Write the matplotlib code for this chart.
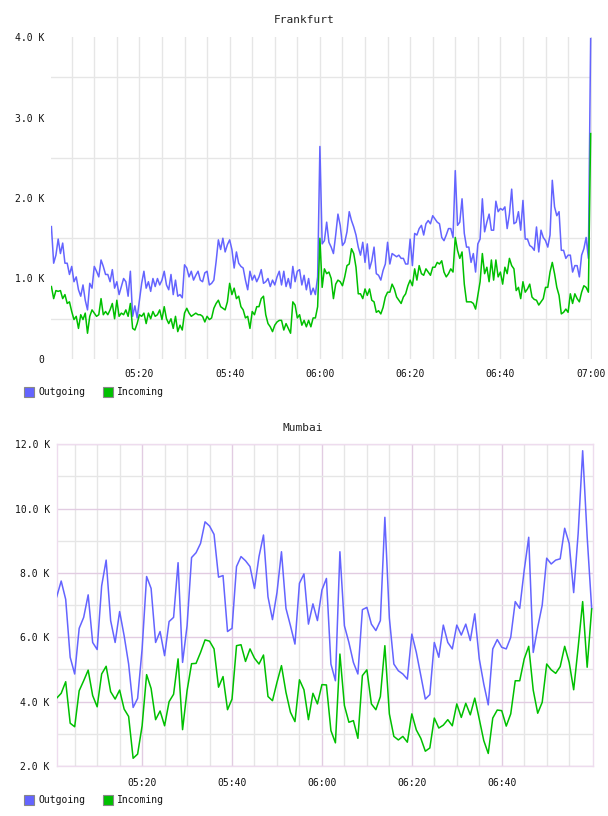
import matplotlib
matplotlib.use("Agg")
import matplotlib.pyplot as plt
import numpy as np
from matplotlib.patches import Rectangle
from matplotlib.ticker import FixedLocator

# ---------------- data (values in thousands) ----------------
series_names = ["Outgoing", "Incoming"]

# Frankfurt: 30-second samples, minutes after 05:00
frankfurt_minutes = np.arange(240) * 0.5 + 0.5
frankfurt_outgoing = [
    1.645, 1.19, 1.29, 1.49, 1.31, 1.44, 1.19, 1.19, 1.05, 1.15,
    0.96, 1.02, 0.86, 0.78, 0.92, 0.73, 0.61, 0.94, 0.88, 1.15,
    1.09, 1.02, 1.23, 1.15, 1.05, 1.05, 0.96, 1.11, 0.88, 0.96,
    0.80, 0.90, 1.00, 0.96, 0.78, 1.09, 0.53, 0.66, 0.51, 0.73,
    0.94, 1.09, 0.88, 0.96, 0.84, 1.00, 0.90, 1.00, 0.92, 0.98,
    1.09, 0.92, 0.86, 1.05, 0.80, 0.98, 0.78, 0.80, 0.76, 1.17,
    1.13, 1.02, 1.09, 0.98, 1.04, 1.09, 0.98, 0.96, 1.07, 1.09,
    0.92, 0.94, 0.98, 1.21, 1.48, 1.36, 1.50, 1.33, 1.42, 1.48,
    1.36, 1.13, 1.33, 1.19, 1.15, 1.13, 0.98, 0.86, 1.09, 0.98,
    1.04, 0.96, 1.02, 1.11, 0.94, 0.96, 1.00, 0.90, 0.98, 0.92,
    1.02, 1.09, 0.92, 1.09, 0.90, 1.00, 0.88, 1.15, 0.96, 1.09,
    1.11, 0.92, 1.04, 0.86, 1.00, 0.80, 0.88, 0.80, 1.02, 2.64,
    1.43, 1.47, 1.70, 1.45, 1.39, 1.31, 1.54, 1.80, 1.66, 1.41,
    1.45, 1.58, 1.83, 1.72, 1.64, 1.54, 1.39, 1.29, 1.45, 1.20,
    1.43, 1.12, 1.22, 1.39, 1.06, 1.04, 0.98, 1.10, 1.18, 1.45,
    1.18, 1.31, 1.29, 1.27, 1.29, 1.25, 1.25, 1.18, 1.18, 1.49,
    1.16, 1.56, 1.54, 1.62, 1.66, 1.54, 1.68, 1.72, 1.68, 1.78,
    1.74, 1.70, 1.68, 1.51, 1.47, 1.54, 1.62, 1.62, 1.51, 2.34,
    1.66, 1.70, 1.99, 1.56, 1.39, 1.39, 1.20, 1.31, 1.08, 1.43,
    1.49, 1.99, 1.58, 1.70, 1.80, 1.60, 1.60, 1.96, 1.83, 1.87,
    1.85, 1.89, 1.62, 1.80, 2.11, 1.68, 1.70, 1.83, 1.60, 1.97,
    1.49, 1.49, 1.41, 1.39, 1.35, 1.64, 1.33, 1.60, 1.51, 1.47,
    1.39, 1.54, 2.22, 1.89, 1.78, 1.83, 1.35, 1.35, 1.25, 1.29,
    1.29, 1.08, 1.16, 1.16, 1.02, 1.29, 1.37, 1.51, 1.25, 3.98,
]
frankfurt_incoming = [
    0.90, 0.75, 0.85, 0.84, 0.85, 0.75, 0.80, 0.69, 0.71, 0.59,
    0.49, 0.53, 0.38, 0.55, 0.49, 0.57, 0.32, 0.53, 0.61, 0.57,
    0.53, 0.55, 0.75, 0.55, 0.59, 0.55, 0.61, 0.69, 0.50, 0.73,
    0.53, 0.57, 0.55, 0.61, 0.53, 0.69, 0.38, 0.36, 0.44, 0.55,
    0.53, 0.57, 0.44, 0.57, 0.50, 0.59, 0.53, 0.55, 0.61, 0.49,
    0.65, 0.50, 0.44, 0.50, 0.38, 0.53, 0.34, 0.42, 0.36, 0.57,
    0.63, 0.57, 0.53, 0.55, 0.57, 0.55, 0.55, 0.53, 0.46, 0.53,
    0.49, 0.51, 0.63, 0.69, 0.73, 0.65, 0.63, 0.61, 0.71, 0.94,
    0.80, 0.88, 0.75, 0.78, 0.65, 0.61, 0.51, 0.53, 0.38, 0.59,
    0.55, 0.65, 0.65, 0.75, 0.78, 0.55, 0.44, 0.40, 0.34, 0.42,
    0.46, 0.48, 0.48, 0.36, 0.44, 0.38, 0.32, 0.71, 0.67, 0.51,
    0.55, 0.42, 0.48, 0.40, 0.48, 0.40, 0.51, 0.51, 0.65, 1.50,
    0.89, 1.12, 1.06, 1.08, 1.00, 0.75, 0.93, 0.98, 0.96, 0.91,
    1.02, 1.16, 1.18, 1.37, 1.31, 1.14, 0.81, 0.81, 0.75, 0.87,
    0.79, 0.87, 0.73, 0.71, 0.58, 0.60, 0.56, 0.64, 0.77, 0.83,
    0.83, 0.93, 0.87, 0.77, 0.73, 0.69, 0.77, 0.81, 0.91, 0.98,
    0.91, 1.12, 0.98, 1.16, 1.06, 1.04, 1.12, 1.08, 1.04, 1.14,
    1.14, 1.20, 1.18, 1.22, 1.08, 1.02, 1.06, 1.12, 1.08, 1.51,
    1.35, 1.25, 1.33, 0.93, 0.71, 0.71, 0.71, 0.69, 0.62, 0.79,
    0.96, 1.31, 1.06, 1.14, 0.96, 1.23, 0.98, 1.23, 1.02, 1.08,
    0.93, 1.14, 1.06, 1.25, 1.16, 1.12, 0.85, 0.89, 0.75, 0.96,
    0.83, 0.87, 0.93, 0.77, 0.74, 0.73, 0.67, 0.71, 0.75, 0.89,
    0.89, 1.08, 1.20, 1.06, 0.89, 0.79, 0.56, 0.58, 0.62, 0.58,
    0.81, 0.69, 0.81, 0.75, 0.71, 0.83, 0.91, 0.89, 0.83, 2.80,
]

# Mumbai: 1-minute samples, minutes after 05:00
mumbai_minutes = np.arange(120) + 1.0
mumbai_outgoing = [
    7.26, 7.75, 7.18, 5.38, 4.86, 6.28, 6.62, 7.32, 5.84, 5.62,
    7.60, 8.40, 6.52, 5.84, 6.80, 6.05, 5.17, 3.82, 4.10, 5.64,
    7.89, 7.52, 5.84, 6.18, 5.43, 6.49, 6.62, 8.32, 5.22, 6.36,
    8.48, 8.63, 8.92, 9.59, 9.46, 9.20, 7.87, 7.92, 6.18, 6.28,
    8.20, 8.51, 8.38, 8.20, 7.52, 8.51, 9.18, 7.26, 6.55, 7.39,
    8.66, 6.90, 6.36, 5.79, 7.68, 7.97, 6.41, 7.04, 6.52, 7.47,
    7.83, 5.17, 4.65, 8.66, 6.36, 5.84, 5.22, 4.86, 6.86, 6.93,
    6.41, 6.21, 6.52, 9.73, 6.60, 5.17, 4.96, 4.86, 4.70, 6.10,
    5.53, 4.81, 4.08, 4.22, 5.84, 5.38, 6.38, 5.84, 5.64, 6.38,
    6.07, 6.41, 5.90, 6.73, 5.33, 4.55, 3.90, 5.64, 5.93, 5.69,
    5.64, 6.00, 7.11, 6.90, 8.09, 9.11, 5.53, 6.31, 7.00, 8.46,
    8.28, 8.40, 8.44, 9.39, 8.92, 7.39, 9.23, 11.80, 9.13, 6.90,
]
mumbai_incoming = [
    4.11, 4.26, 4.62, 3.33, 3.22, 4.34, 4.65, 4.98, 4.19, 3.84,
    4.86, 5.10, 4.31, 4.08, 4.36, 3.77, 3.54, 2.24, 2.37, 3.25,
    4.84, 4.41, 3.44, 3.71, 3.25, 4.00, 4.23, 5.33, 3.13, 4.34,
    5.18, 5.19, 5.53, 5.92, 5.88, 5.64, 4.45, 4.78, 3.75, 4.08,
    5.74, 5.77, 5.25, 5.64, 5.35, 5.17, 5.45, 4.16, 4.03, 4.60,
    5.12, 4.29, 3.67, 3.38, 4.68, 4.37, 3.44, 4.26, 3.93, 4.53,
    4.52, 3.10, 2.72, 5.48, 3.88, 3.36, 3.41, 2.86, 4.81, 4.99,
    3.93, 3.75, 4.16, 5.74, 3.62, 2.92, 2.81, 2.92, 2.74, 3.62,
    3.12, 2.86, 2.46, 2.56, 3.49, 3.18, 3.27, 3.44, 3.25, 3.93,
    3.51, 3.95, 3.59, 4.11, 3.46, 2.79, 2.39, 3.49, 3.74, 3.72,
    3.24, 3.62, 4.65, 4.65, 5.33, 5.72, 4.36, 3.64, 3.98, 5.17,
    4.99, 4.88, 5.09, 5.72, 5.22, 4.37, 5.69, 7.11, 5.07, 6.88,
]

frankfurt_yticks = [0, 1, 2, 3, 4]
frankfurt_ylabels = ["0", "1.0 K", "2.0 K", "3.0 K", "4.0 K"]
mumbai_yticks = [2, 4, 6, 8, 10, 12]
mumbai_ylabels = ["2.0 K", "4.0 K", "6.0 K", "8.0 K", "10.0 K", "12.0 K"]
frankfurt_xticks = [20, 40, 60, 80, 100, 120]
frankfurt_xlabels = ["05:20", "05:40", "06:00", "06:20", "06:40", "07:00"]
mumbai_xticks = [20, 40, 60, 80, 100]
mumbai_xlabels = ["05:20", "05:40", "06:00", "06:20", "06:40"]

# ---------------- style ----------------
W, H = 608, 816
BLUE = "#6464ff"
GREEN = "#00c000"
MONO = "DejaVu Sans Mono"

fig = plt.figure(figsize=(W / 100, H / 100), dpi=100)
fig.patch.set_facecolor("white")


def axes_px(left, top, right, bottom):
    return fig.add_axes([left / W, 1 - bottom / H, (right - left) / W, (bottom - top) / H])


# ---- Frankfurt ----
ax1 = axes_px(51, 37, 592, 359)
ax1.plot(frankfurt_minutes, frankfurt_outgoing, color=BLUE, lw=1.1, zorder=3)
ax1.plot(frankfurt_minutes, frankfurt_incoming, color=GREEN, lw=1.1, zorder=3)
ax1.set_xlim(0.41, 120.3)
ax1.set_ylim(0, 4.0)
ax1.set_yticks(frankfurt_yticks)
ax1.set_yticklabels(frankfurt_ylabels)
ax1.yaxis.set_minor_locator(FixedLocator([0.5, 1.5, 2.5, 3.5]))
ax1.set_xticks(frankfurt_xticks)
ax1.set_xticklabels(frankfurt_xlabels)
ax1.xaxis.set_minor_locator(FixedLocator([m for m in range(5, 121, 5) if m % 20]))
for s in ax1.spines.values():
    s.set_visible(False)
ax1.grid(False)
ax1.grid(True, which="both", axis="x", color="#e6e6e6", lw=1.0, zorder=0)
ax1.grid(True, which="minor", axis="y", color="#e6e6e6", lw=1.0, zorder=0)
ax1.set_axisbelow(True)
ax1.tick_params(which="both", length=0)
ax1.tick_params(axis="y", pad=5)
ax1.tick_params(axis="x", pad=7)

# ---- Mumbai ----
ax2 = axes_px(56.7, 444.3, 593, 766)
ax2.plot(mumbai_minutes, mumbai_outgoing, color=BLUE, lw=1.1, zorder=3)
ax2.plot(mumbai_minutes, mumbai_incoming, color=GREEN, lw=1.1, zorder=3)
ax2.set_xlim(1.0, 120.3)
ax2.set_ylim(2.0, 12.0)
ax2.set_yticks(mumbai_yticks)
ax2.set_yticklabels(mumbai_ylabels)
ax2.yaxis.set_minor_locator(FixedLocator([3, 5, 7, 9, 11]))
ax2.set_xticks(mumbai_xticks)
ax2.set_xticklabels(mumbai_xlabels)
ax2.xaxis.set_minor_locator(FixedLocator([m for m in range(5, 121, 5) if m % 20]))
for s in ax2.spines.values():
    s.set_color("#eedcee")
    s.set_linewidth(1.0)
ax2.grid(True, which="major", color="#e2cce2", lw=1.0, zorder=0)
ax2.grid(True, which="minor", color="#e6e6e6", lw=1.0, zorder=0)
ax2.set_axisbelow(True)
ax2.tick_params(which="both", length=0)
ax2.tick_params(axis="y", pad=5)
ax2.tick_params(axis="x", pad=9)

for ax in (ax1, ax2):
    for lab in ax.get_xticklabels() + ax.get_yticklabels():
        lab.set_fontfamily(MONO)
        lab.set_fontsize(7)
        lab.set_color("#111111")

# ---- titles ----
fig.text(304 / W, 1 - 20 / H, "Frankfurt", ha="center", va="center",
         family=MONO, fontsize=8, color="#222222")
fig.text(303 / W, 1 - 428 / H, "Mumbai", ha="center", va="center",
         family=MONO, fontsize=8, color="#222222")

# ---- legends ----
def legend_row(yc):
    for x0, col, name in ((24.3, BLUE, series_names[0]), (102.7, GREEN, series_names[1])):
        fig.add_artist(Rectangle((x0 / W, 1 - (yc + 5) / H), 10 / W, 10 / H,
                                 transform=fig.transFigure, facecolor=col,
                                 edgecolor="#888888", lw=0.8))
        fig.text((x0 + 14.5) / W, 1 - yc / H, name, ha="left", va="center",
                 family=MONO, fontsize=7, color="#111111")


legend_row(392)
legend_row(800)

fig.savefig("out.png", dpi=100, facecolor="white")
